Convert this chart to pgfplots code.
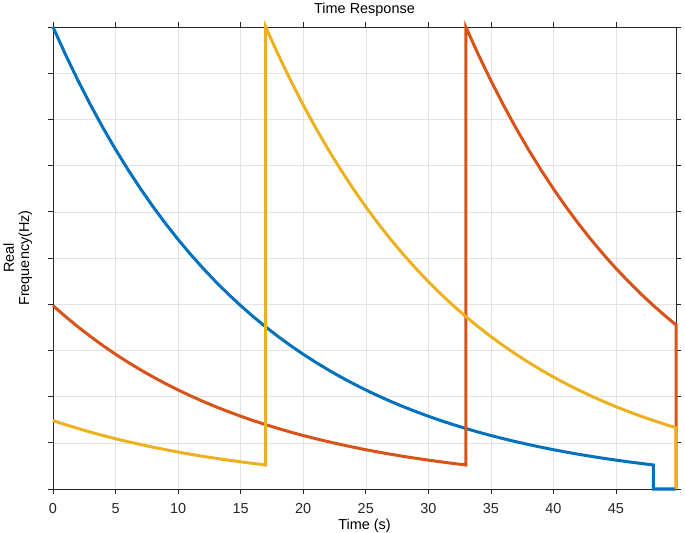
\documentclass[border=0pt]{standalone}
\usepackage{fontspec}
\setmainfont{Liberation Sans}
\usepackage{pgfplots}
\pgfplotsset{compat=1.18}
\definecolor{mblue}{rgb}{0,0.447,0.741}
\definecolor{mred}{rgb}{0.851,0.325,0.098}
\definecolor{myellow}{rgb}{0.929,0.694,0.125}
\definecolor{axgray}{rgb}{0.15,0.15,0.15}
\definecolor{gridgray}{rgb}{0.89,0.89,0.89}
\begin{document}
\begin{tikzpicture}
\begin{axis}[
  name=ax,
  scale only axis,
  width=623bp, height=462bp,
  xmin=0, xmax=49.8, ymin=0, ymax=1,
  xtick={0,5,...,45},
  ytick={0,0.1,...,1.01},
  yticklabels={},
  tick align=outside,
  major tick length=5bp,
  tick style={axgray, line width=0.6bp},
  axis line style={axgray, line width=0.7bp},
  grid=major,
  grid style={gridgray, line width=0.5bp},
  clip=false,
  font=\fontsize{14.5}{15.5}\selectfont,
  /pgf/number format/assume math mode=true,
  ticklabel style={font=\fontsize{14.5}{15.5}\selectfont, text=axgray},
  xticklabel style={yshift=-6bp},
  title={Time Response},
  title style={at={(axis description cs:0.5,1)}, anchor=base, yshift=7.5bp, inner sep=0pt},
  xlabel={Time (s)},
  xlabel style={at={(axis description cs:0.5,0)}, anchor=base, yshift=-40bp, inner sep=0pt},
  ylabel={Real\\Frequency(Hz)},
  ylabel style={at={(axis description cs:-0.033,0.5)}, anchor=south, inner sep=0pt, align=center},
]
\addplot[mblue, line width=3bp] coordinates {
(0,1.0000)(1,0.9403)(2,0.8841)(3,0.8313)(4,0.7816)(5,0.7349)(6,0.6910)(7,0.6498)(8,0.6109)(9,0.5744)
(10,0.5401)(11,0.5078)(12,0.4775)(13,0.4490)(14,0.4221)(15,0.3969)(16,0.3732)(17,0.3509)(18,0.3300)(19,0.3102)
(20,0.2917)(21,0.2743)(22,0.2579)(23,0.2425)(24,0.2280)(25,0.2144)(26,0.2016)(27,0.1895)(28,0.1782)(29,0.1676)
(30,0.1576)(31,0.1481)(32,0.1393)(33,0.1310)(34,0.1231)(35,0.1158)(36,0.1089)(37,0.1024)(38,0.0963)(39,0.0905)
(40,0.0851)(41,0.0800)(42,0.0752)(43,0.0707)(44,0.0665)(45,0.0625)(46,0.0588)(47,0.0553)(48,0.0520)
(48,0)(49.8,0)
};
\addplot[mred, line width=3bp] coordinates {
(0,0.3969)(1,0.3732)(2,0.3509)(3,0.3300)(4,0.3102)(5,0.2917)(6,0.2743)(7,0.2579)(8,0.2425)(9,0.2280)
(10,0.2144)(11,0.2016)(12,0.1895)(13,0.1782)(14,0.1676)(15,0.1576)(16,0.1481)(17,0.1393)(18,0.1310)(19,0.1231)
(20,0.1158)(21,0.1089)(22,0.1024)(23,0.0963)(24,0.0905)(25,0.0851)(26,0.0800)(27,0.0752)(28,0.0707)(29,0.0665)
(30,0.0625)(31,0.0588)(32,0.0553)(33,0.0520)
(33,1.0000)(34,0.9403)(35,0.8841)(36,0.8313)(37,0.7816)(38,0.7349)(39,0.6910)(40,0.6498)(41,0.6109)(42,0.5744)
(43,0.5401)(44,0.5078)(45,0.4775)(46,0.4490)(47,0.4221)(48,0.3969)(49,0.3732)(49.8,0.3553)(49.8,0)
};
\addplot[myellow, line width=3bp] coordinates {
(0,0.1481)(1,0.1393)(2,0.1310)(3,0.1231)(4,0.1158)(5,0.1089)(6,0.1024)(7,0.0963)(8,0.0905)(9,0.0851)
(10,0.0800)(11,0.0752)(12,0.0707)(13,0.0665)(14,0.0625)(15,0.0588)(16,0.0553)(17,0.0520)
(17,1.0000)(18,0.9403)(19,0.8841)(20,0.8313)(21,0.7816)(22,0.7349)(23,0.6910)(24,0.6498)(25,0.6109)(26,0.5744)
(27,0.5401)(28,0.5078)(29,0.4775)(30,0.4490)(31,0.4221)(32,0.3969)(33,0.3732)(34,0.3509)(35,0.3300)(36,0.3102)
(37,0.2917)(38,0.2743)(39,0.2579)(40,0.2425)(41,0.2280)(42,0.2144)(43,0.2016)(44,0.1895)(45,0.1782)(46,0.1676)
(47,0.1576)(48,0.1481)(49,0.1393)(49.8,0.1326)(49.8,0)
};
\end{axis}
\pgfresetboundingbox
\path[use as bounding box] ([xshift=-53bp,yshift=-44bp]ax.south west) rectangle ([xshift=9bp,yshift=27bp]ax.north east);
\end{tikzpicture}
\end{document}
